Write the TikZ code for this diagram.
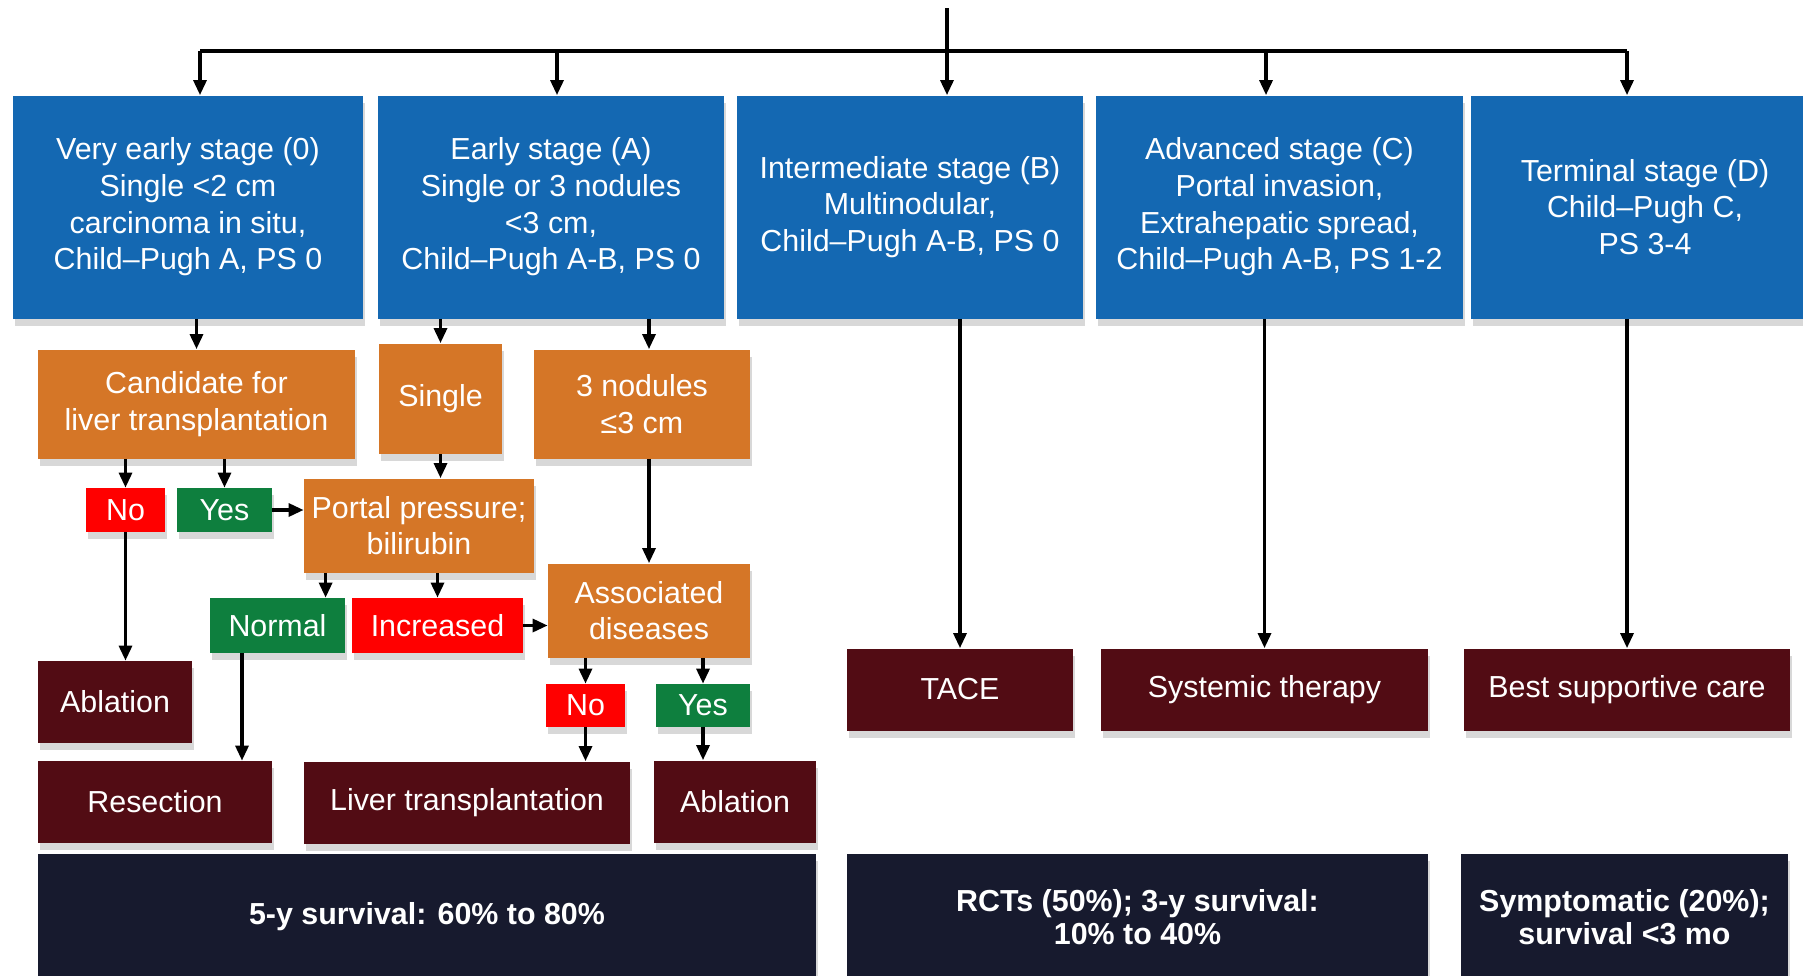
\documentclass[tikz,border=0pt]{standalone}
\usepackage{fontspec}
\setmainfont{Liberation Sans}
\usepackage{tikz}
\usetikzlibrary{arrows.meta,positioning,calc,shadows}
\definecolor{HccBlue}{HTML}{1468B2}
\definecolor{HccOrange}{HTML}{D57627}
\definecolor{HccMaroon}{HTML}{520C14}
\definecolor{HccRed}{HTML}{FF0000}
\definecolor{HccGreen}{HTML}{0E7F3E}
\definecolor{HccNavy}{HTML}{171A2E}

\begin{document}
\begin{tikzpicture}[x=0.5pt,y=-0.5pt,
		box/.style={text=white,align=center,inner sep=0pt,
			font=\fontsize{15.2}{18.3}\selectfont,
			drop shadow={shadow xshift=1pt,shadow yshift=-3.5pt,opacity=0.3}},
		stage/.style={box,fill=HccBlue,minimum height=111.5pt},
		query/.style={box,fill=HccOrange},
		nobox/.style={box,fill=HccRed},
		yesbox/.style={box,fill=HccGreen},
		treat/.style={box,fill=HccMaroon,minimum height=41pt},
		outcome/.style={box,fill=HccNavy,minimum height=63pt,
			font=\fontsize{15.2}{16.5}\selectfont\bfseries},
		arr/.style={-{Triangle[length=7.5pt,width=6.5pt]},line width=1.6pt},
		link/.style={line width=1.6pt}]
		\path[fill=white,use as bounding box] (0,0) rectangle (1803,975);

		\node[stage,minimum width=175pt] (s0) at (188,207) {Very early stage (0)\\Single <2 cm\\carcinoma in situ,\\Child–Pugh A, PS 0};
		\node[stage,minimum width=173pt] (sA) at (551,207) {Early stage (A)\\Single or 3 nodules\\<3 cm,\\Child–Pugh A-B, PS 0};
		\node[stage,minimum width=173pt] (sB) at (910,207) {Intermediate stage (B)\\Multinodular,\\Child–Pugh A-B, PS 0};
		\node[stage,minimum width=183.5pt] (sC) at (1279.5,207) {Advanced stage (C)\\Portal invasion,\\Extrahepatic spread,\\Child–Pugh A-B, PS 1-2};
		\node[stage,minimum width=174pt] (sD) at (1645,207) {Terminal stage (D)\\Child–Pugh C,\\PS 3-4};

		\node[query,minimum width=158.5pt,minimum height=54.5pt] (cand) at (196.5,404) {Candidate for\\liver transplantation};
		\node[query,minimum width=61.5pt,minimum height=55pt] (single) at (440.5,398.5) {Single};
		\node[query,minimum width=108pt,minimum height=54.5pt] (three) at (642,404) {3 nodules\\≤3 cm};
		\node[query,minimum width=115pt,minimum height=47pt] (portal) at (419,525.5) {Portal pressure;\\bilirubin};
		\node[query,minimum width=101pt,minimum height=47pt] (assoc) at (649,610.5) {Associated\\diseases};

		\node[nobox,minimum width=39.5pt,minimum height=22pt] (no1) at (125.5,510) {No};
		\node[yesbox,minimum width=47.5pt,minimum height=22pt] (yes1) at (224.5,510) {Yes};
		\node[yesbox,minimum width=67.5pt,minimum height=27.5pt] (normal) at (277.5,625.5) {Normal};
		\node[nobox,minimum width=85.5pt,minimum height=27.5pt] (incr) at (437.5,625.5) {Increased};
		\node[nobox,minimum width=39.5pt,minimum height=21.5pt] (no2) at (585.5,705.5) {No};
		\node[yesbox,minimum width=47pt,minimum height=21.5pt] (yes2) at (703,705.5) {Yes};

		\node[treat,minimum width=77pt] (abl1) at (115,702) {Ablation};
		\node[treat,minimum width=117pt] (resec) at (155,802) {Resection};
		\node[treat,minimum width=163pt] (lt) at (467,802.5) {Liver transplantation};
		\node[treat,minimum width=81pt] (abl2) at (735,801.5) {Ablation};
		\node[treat,minimum width=113pt] (tace) at (960,689.5) {TACE};
		\node[treat,minimum width=163.5pt] (sys) at (1264.5,689.5) {Systemic therapy};
		\node[treat,minimum width=163pt] (bsc) at (1627,689.5) {Best supportive care};

		\node[outcome,minimum width=389pt] (surv1) at (427,917) {5-y survival: 60\% to 80\%};
		\node[outcome,minimum width=290.5pt] (surv2) at (1137.5,917) {RCTs (50\%); 3-y survival:\\10\% to 40\%};
		\node[outcome,minimum width=163.5pt] (surv3) at (1624.5,917) {Symptomatic (20\%);\\survival <3 mo};

		\coordinate (root) at (947,8);
		\coordinate (k0) at (200,51);
		\coordinate (kA) at (557,51);
		\coordinate (kC) at (1266,51);
		\coordinate (kD) at (1627,51);
		\draw[link] (k0) -- (kD);
		\draw[arr] (root) -- (root |- sB.north);
		\draw[arr] (k0) -- (k0 |- s0.north);
		\draw[arr] (kA) -- (kA |- sA.north);
		\draw[arr] (kC) -- (kC |- sC.north);
		\draw[arr] (kD) -- (kD |- sD.north);

		\draw[arr] (s0.south -| cand.north) -- (cand.north);
		\draw[arr] (sA.south -| single.north) -- (single.north);
		\draw[arr] (sA.south -| assoc.north) -- (three.north -| assoc.north);
		\draw[arr] (cand.south -| no1.north) -- (no1.north);
		\draw[arr] (cand.south -| yes1.north) -- (yes1.north);
		\draw[arr] (yes1.east) -- (yes1.east -| portal.west);
		\draw[arr] (single.south) -- (single.south |- portal.north);
		\draw[arr] (no1.south) -- (no1.south |- abl1.north);
		\draw[arr] (three.south -| assoc.north) -- (assoc.north);
		\draw[arr] ([xshift=11pt]portal.south west) -- ([xshift=11pt]portal.south west |- normal.north);
		\draw[arr] (portal.south -| incr.north) -- (incr.north);
		\draw[arr] (incr.east) -- (incr.east -| assoc.west);
		\draw[arr] ([xshift=-17.75pt]normal.south) -- ([xshift=-17.75pt]normal.south |- resec.north);
		\draw[arr] (assoc.south -| no2.north) -- (no2.north);
		\draw[arr] (assoc.south -| yes2.north) -- (yes2.north);
		\draw[arr] (no2.south) -- (no2.south |- lt.north);
		\draw[arr] (yes2.south) -- (yes2.south |- abl2.north);
		\draw[arr] (sB.south -| tace.north) -- (tace.north);
		\draw[arr] (sC.south -| sys.north) -- (sys.north);
		\draw[arr] (sD.south -| bsc.north) -- (bsc.north);
	\end{tikzpicture}
\end{document}
